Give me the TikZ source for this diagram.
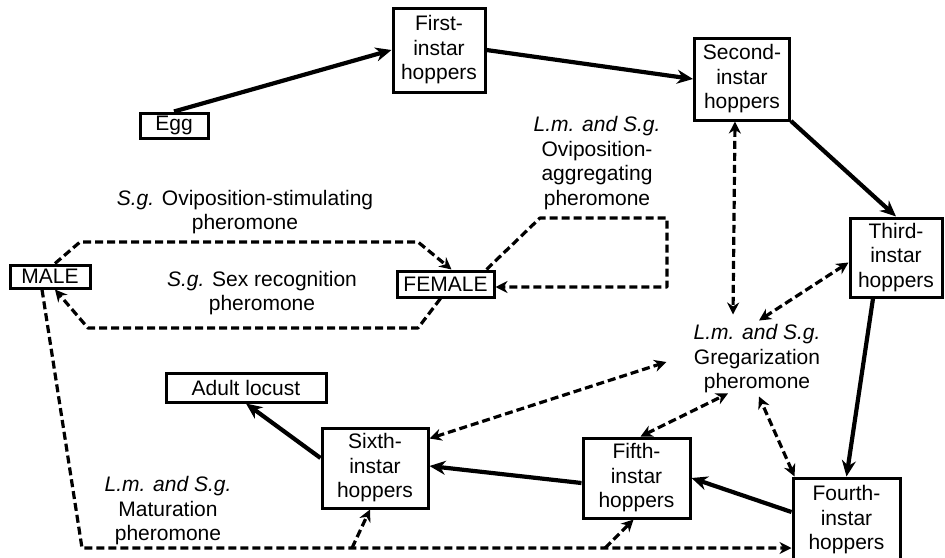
\documentclass[tikz,border=0pt]{standalone}
\usepackage{fontspec}
\setmainfont{Liberation Sans}
\usetikzlibrary{arrows.meta}
\newcommand{\fsz}{\fontsize{21}{24.5}\selectfont}
\begin{document}
\begin{tikzpicture}[x=1pt,y=-1pt,
  box/.style={draw, line width=3pt, inner sep=0pt, align=center, font=\fsz},
  lbl/.style={align=center, font=\fsz, inner sep=2pt},
  sarr/.style={line width=4.2pt, -{Stealth[length=16pt,width=14pt]}},
  darr/.style={line width=3.2pt, dash pattern=on 8pt off 4pt, line join=round, -{Stealth[length=12pt,width=12pt]}},
  dbl/.style={darr, {Stealth[length=12pt,width=12pt]}-{Stealth[length=12pt,width=12pt]}}]
\useasboundingbox (0,0) rectangle (945,557);
\fill[white] (0,0) rectangle (945,557);
% boxes
\node[box, minimum width=68pt, minimum height=25pt] (egg) at (174,125.5) {Egg};
\node[box, minimum width=92pt, minimum height=84pt] (first) at (439,50) {First-\\instar\\hoppers};
\node[box, minimum width=95pt, minimum height=82pt] (second) at (742,79) {Second-\\instar\\hoppers};
\node[box, minimum width=92pt, minimum height=79pt] (third) at (896,257.5) {Third-\\instar\\hoppers};
\node[box, minimum width=107pt, minimum height=84pt] (fourth) at (846.5,520) {Fourth-\\instar\\hoppers};
\node[box, minimum width=107pt, minimum height=80pt] (fifth) at (636.5,478) {Fifth-\\instar\\hoppers};
\node[box, minimum width=106pt, minimum height=80pt] (sixth) at (375,468) {Sixth-\\instar\\hoppers};
\node[box, minimum width=160pt, minimum height=29pt] (adult) at (246,387.5) {Adult locust};
\node[box, minimum width=80pt, minimum height=23pt] (male) at (50,276.5) {MALE};
\node[box, minimum width=97pt, minimum height=26pt] (female) at (445.5,284) {FEMALE};
% labels
\node[lbl] (stim) at (245,212) {\textit{S.g.} Oviposition-stimulating\\pheromone};
\node[lbl] (sexrec) at (262,293) {\textit{S.g.} Sex recognition\\pheromone};
\node[lbl] (ovagg) at (597,163) {\textit{L.m. and S.g.}\\Oviposition-\\aggregating\\pheromone};
\node[lbl] (greg) at (757,359) {\textit{L.m. and S.g.}\\Gregarization\\pheromone};
\node[lbl] (mat) at (168,511) {\textit{L.m. and S.g.}\\Maturation\\pheromone};
% corner coordinates
\coordinate (stimA) at (80,242);
\coordinate (stimB) at (418,242);
\coordinate (aggA) at (540,218);
\coordinate (aggB) at (667,218);
\coordinate (aggC) at (667,287);
\coordinate (sexA) at (418,328);
\coordinate (sexB) at (88,328);
\coordinate (matA) at (82,548);
\coordinate (matS) at (352,548);
\coordinate (matF) at (605,548);
% life cycle
\draw[sarr] (egg.north) -- (first.west);
\draw[sarr] (first.east) -- (second.west);
\draw[sarr] ([yshift=-42pt]second.east) -- (third.north);
\draw[sarr] ([xshift=-23pt]third.south) -- (fourth.north);
\draw[sarr] ([yshift=8pt]fourth.west) -- (fifth.east);
\draw[sarr] ([yshift=-5pt]fifth.west) -- ([yshift=2pt]sixth.east);
\draw[sarr] ([yshift=10pt]sixth.west) -- (adult.south);
% sex pheromones
\draw[darr] ([xshift=5pt]male.north) -- (stimA) -- (stimB) -- ([xshift=6pt]female.north);
\draw[darr] ([xshift=-5pt]female.south) -- (sexA) -- (sexB) -- ([xshift=5pt]male.south);
\draw[darr] ([xshift=41pt]female.north) -- (aggA) -- (aggB) -- (aggC) -- ([yshift=-3pt]female.east);
% maturation
\draw[darr] ([xshift=-8pt]male.south) -- (matA) -- ([yshift=-28pt]fourth.west);
\draw[darr] (matS) -- ([xshift=-5pt]sixth.south);
\draw[darr] (matF) -- ([xshift=-3pt]fifth.south);
% gregarization
\draw[dbl] ([xshift=-7pt]second.south) -- ([xshift=-24pt,yshift=8pt]greg.north);
\draw[dbl] ([yshift=-5pt]third.west) -- ([xshift=2pt,yshift=2pt]greg.north);
\draw[dbl] ([yshift=-12pt]sixth.north east) -- ([xshift=-25pt,yshift=-3pt]greg.west);
\draw[dbl] ([xshift=4pt]fifth.north) -- ([xshift=-29pt,yshift=2pt]greg.south);
\draw[dbl] ([xshift=3pt]fourth.north west) -- ([xshift=2pt,yshift=-1pt]greg.south);
\end{tikzpicture}
\end{document}
